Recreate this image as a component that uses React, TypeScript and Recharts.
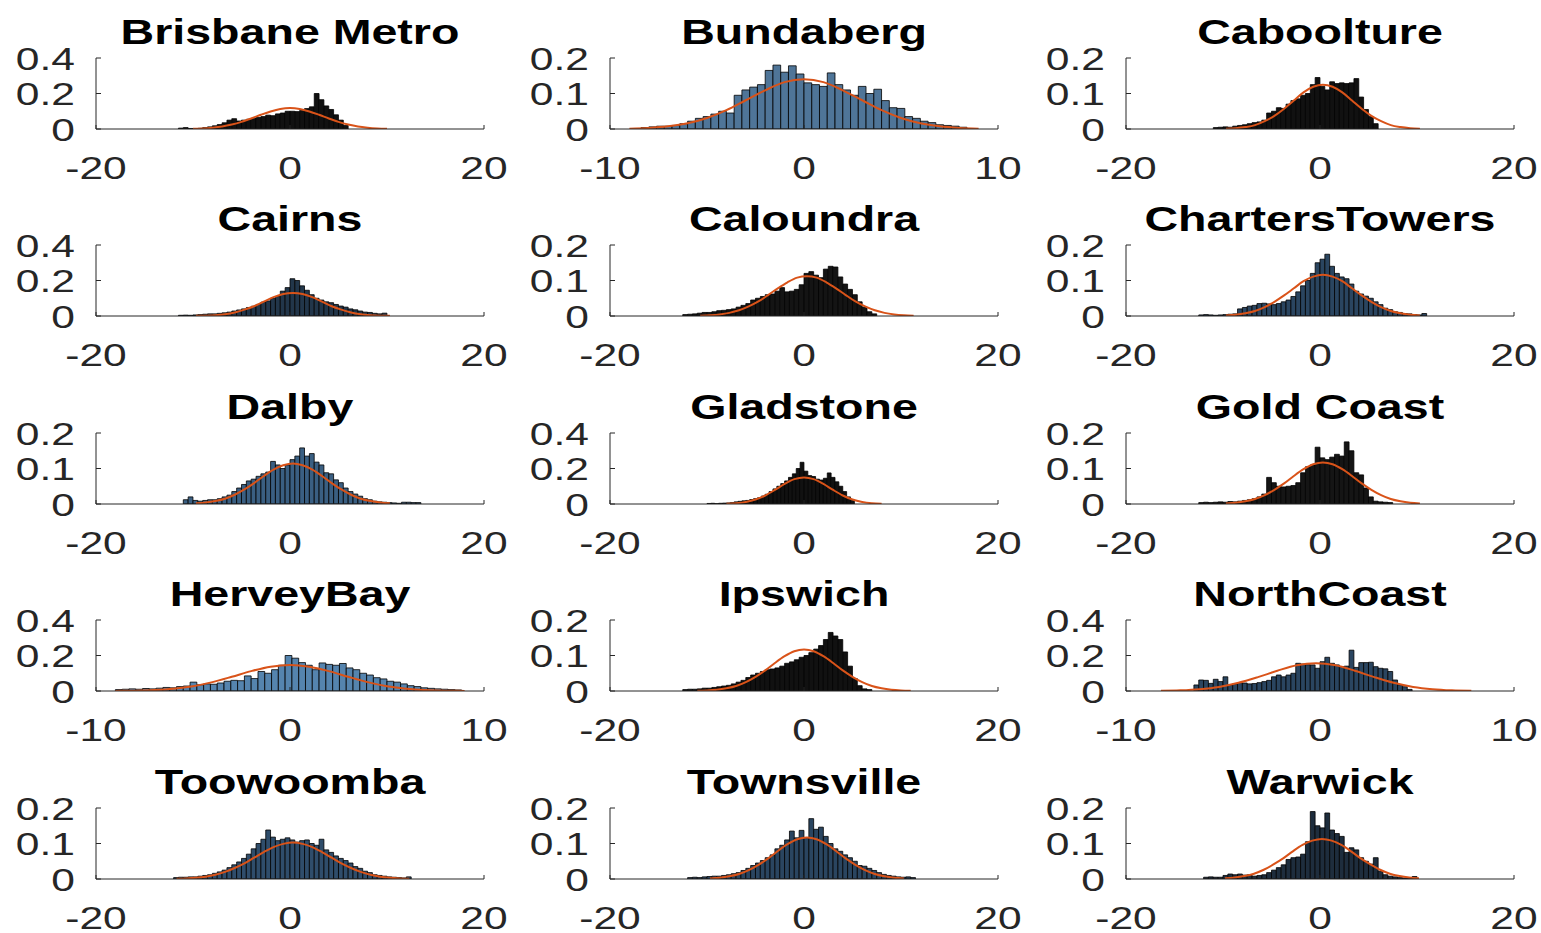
import { Bar, ComposedChart, Line, XAxis, YAxis } from "recharts";

// bin heights (probability density)
const brisbaneHeights = [0.005, 0.008, 0.003, 0, 0.004, 0.008, 0.012, 0.018, 0.025, 0.035, 0.05, 0.058, 0.045, 0.05, 0.055, 0.06, 0.065, 0.07, 0.078, 0.075, 0.085, 0.09, 0.1, 0.1, 0.098, 0.105, 0.115, 0.125, 0.2, 0.165, 0.13, 0.11, 0.08, 0.05, 0.02];
const bundabergHeights = [0.004, 0.006, 0.008, 0.008, 0.01, 0.015, 0.022, 0.03, 0.035, 0.042, 0.05, 0.045, 0.095, 0.11, 0.118, 0.125, 0.165, 0.18, 0.16, 0.178, 0.155, 0.13, 0.125, 0.12, 0.158, 0.125, 0.11, 0.095, 0.12, 0.1, 0.112, 0.08, 0.06, 0.058, 0.035, 0.03, 0.022, 0.018, 0.012, 0.01, 0.008, 0.005];
const cabooltureHeights = [0.004, 0.005, 0.006, 0.005, 0.008, 0.01, 0.012, 0.015, 0.018, 0.02, 0.025, 0.045, 0.05, 0.06, 0.058, 0.07, 0.08, 0.085, 0.095, 0.1, 0.125, 0.145, 0.12, 0.11, 0.133, 0.128, 0.13, 0.128, 0.13, 0.142, 0.09, 0.055, 0.035, 0.015];
const cairnsHeights = [0.004, 0.005, 0.004, 0.006, 0.008, 0.01, 0.012, 0.012, 0.015, 0.018, 0.022, 0.028, 0.034, 0.04, 0.048, 0.055, 0.065, 0.078, 0.085, 0.1, 0.11, 0.14, 0.16, 0.21, 0.2, 0.17, 0.145, 0.12, 0.1, 0.09, 0.08, 0.075, 0.065, 0.056, 0.05, 0.04, 0.035, 0.028, 0.022, 0.02, 0.015, 0.012, 0.016];
const caloundraHeights = [0.004, 0.005, 0.006, 0.008, 0.01, 0.01, 0.012, 0.015, 0.016, 0.018, 0.02, 0.025, 0.03, 0.035, 0.045, 0.05, 0.055, 0.06, 0.062, 0.07, 0.08, 0.068, 0.07, 0.075, 0.088, 0.12, 0.125, 0.115, 0.108, 0.132, 0.14, 0.138, 0.11, 0.09, 0.075, 0.06, 0.04, 0.025, 0.012, 0.006];
const chartersHeights = [0.003, 0.004, 0.003, 0.002, 0.003, 0.004, 0.005, 0.006, 0.02, 0.024, 0.028, 0.03, 0.035, 0.036, 0.034, 0.032, 0.035, 0.04, 0.045, 0.055, 0.068, 0.085, 0.1, 0.12, 0.15, 0.16, 0.174, 0.14, 0.12, 0.11, 0.105, 0.09, 0.07, 0.062, 0.056, 0.05, 0.04, 0.032, 0.022, 0.018, 0.012, 0.01, 0.007, 0.006, 0.004, 0.003, 0.007];
const dalbyHeights = [0.012, 0.02, 0.01, 0.008, 0.01, 0.012, 0.012, 0.015, 0.02, 0.025, 0.035, 0.045, 0.055, 0.065, 0.07, 0.078, 0.085, 0.09, 0.12, 0.11, 0.1, 0.11, 0.125, 0.135, 0.158, 0.135, 0.142, 0.118, 0.11, 0.088, 0.085, 0.068, 0.06, 0.045, 0.035, 0.028, 0.022, 0.015, 0.012, 0.008, 0.006, 0.005, 0.004, 0.003, 0.002, 0.005, 0.005, 0.004, 0.004];
const gladstoneHeights = [0.003, 0.004, 0.002, 0.004, 0.005, 0.006, 0.008, 0.012, 0.015, 0.018, 0.02, 0.025, 0.03, 0.035, 0.045, 0.055, 0.07, 0.085, 0.1, 0.115, 0.13, 0.15, 0.17, 0.2, 0.235, 0.185, 0.16, 0.155, 0.14, 0.135, 0.145, 0.175, 0.15, 0.125, 0.1, 0.07, 0.04, 0.02];
const goldCoastHeights = [0.004, 0.005, 0.004, 0.005, 0.006, 0.005, 0.007, 0.006, 0.008, 0.01, 0.012, 0.015, 0.02, 0.028, 0.075, 0.06, 0.05, 0.048, 0.05, 0.052, 0.06, 0.088, 0.105, 0.11, 0.16, 0.13, 0.125, 0.132, 0.14, 0.135, 0.175, 0.15, 0.088, 0.082, 0.045, 0.02, 0.008, 0.006, 0.005, 0.004];
const herveyBayHeights = [0.008, 0.01, 0.012, 0.01, 0.014, 0.012, 0.016, 0.02, 0.018, 0.025, 0.028, 0.05, 0.035, 0.04, 0.038, 0.045, 0.055, 0.06, 0.058, 0.085, 0.07, 0.11, 0.1, 0.12, 0.145, 0.2, 0.185, 0.16, 0.145, 0.12, 0.158, 0.15, 0.145, 0.155, 0.13, 0.12, 0.1, 0.09, 0.075, 0.068, 0.055, 0.05, 0.04, 0.03, 0.025, 0.018, 0.015, 0.012, 0.01, 0.008, 0.006];
const ipswichHeights = [0.004, 0.005, 0.005, 0.006, 0.008, 0.008, 0.01, 0.012, 0.014, 0.016, 0.02, 0.025, 0.03, 0.038, 0.045, 0.05, 0.055, 0.06, 0.062, 0.065, 0.07, 0.078, 0.082, 0.088, 0.095, 0.1, 0.108, 0.118, 0.128, 0.145, 0.165, 0.155, 0.145, 0.11, 0.07, 0.035, 0.015, 0.006, 0.004];
const northCoastHeights = [0.034, 0.062, 0.06, 0.043, 0.066, 0.053, 0.08, 0.034, 0.04, 0.047, 0.045, 0.04, 0.042, 0.047, 0.053, 0.06, 0.08, 0.09, 0.08, 0.09, 0.1, 0.156, 0.152, 0.148, 0.147, 0.128, 0.165, 0.19, 0.156, 0.147, 0.137, 0.14, 0.23, 0.133, 0.16, 0.16, 0.162, 0.137, 0.128, 0.125, 0.11, 0.062, 0.035, 0.024, 0.009];
const toowoombaHeights = [0.004, 0.005, 0.005, 0.006, 0.006, 0.008, 0.01, 0.012, 0.016, 0.02, 0.025, 0.032, 0.04, 0.048, 0.058, 0.07, 0.085, 0.1, 0.112, 0.138, 0.118, 0.108, 0.112, 0.116, 0.11, 0.104, 0.108, 0.11, 0.1, 0.095, 0.112, 0.082, 0.075, 0.065, 0.058, 0.052, 0.045, 0.035, 0.03, 0.022, 0.018, 0.012, 0.01, 0.008, 0.006, 0.005, 0.004, 0.003, 0.006];
const townsvilleHeights = [0.004, 0.005, 0.004, 0.006, 0.007, 0.008, 0.008, 0.01, 0.012, 0.015, 0.018, 0.024, 0.03, 0.038, 0.045, 0.052, 0.06, 0.068, 0.085, 0.095, 0.11, 0.135, 0.116, 0.137, 0.116, 0.17, 0.14, 0.146, 0.12, 0.1, 0.085, 0.078, 0.068, 0.06, 0.05, 0.038, 0.036, 0.03, 0.024, 0.018, 0.013, 0.01, 0.008, 0.006, 0.005, 0.006, 0.004];
const warwickHeights = [0.005, 0.006, 0.005, 0.005, 0.01, 0.014, 0.012, 0.014, 0.011, 0.012, 0.008, 0.01, 0.012, 0.018, 0.025, 0.032, 0.04, 0.055, 0.06, 0.062, 0.07, 0.105, 0.19, 0.15, 0.144, 0.186, 0.138, 0.128, 0.12, 0.075, 0.088, 0.082, 0.06, 0.05, 0.042, 0.06, 0.022, 0.012, 0.008, 0.006, 0.004, 0.003, 0.003, 0.007];

const brisbaneCurve = [0.0015, 0.0035, 0.0075, 0.014, 0.025, 0.04, 0.059, 0.08, 0.099, 0.113, 0.118, 0.113, 0.099, 0.08, 0.059, 0.04, 0.025, 0.014, 0.0075, 0.0035, 0.0015];
const bundabergCurve = [0.001, 0.003, 0.0075, 0.016, 0.031, 0.053, 0.081, 0.109, 0.132, 0.14, 0.132, 0.109, 0.081, 0.053, 0.031, 0.016, 0.0075, 0.003, 0.001];
const cabooltureCurve = [0.0009, 0.0023, 0.0055, 0.011, 0.022, 0.037, 0.057, 0.08, 0.103, 0.119, 0.125, 0.119, 0.103, 0.08, 0.057, 0.037, 0.022, 0.011, 0.0055, 0.0023, 0.0009];
const cairnsCurve = [0.0008, 0.002, 0.0047, 0.01, 0.02, 0.036, 0.055, 0.081, 0.106, 0.124, 0.13, 0.124, 0.106, 0.081, 0.055, 0.036, 0.02, 0.01, 0.0047, 0.002, 0.0008];
const caloundraCurve = [0.0009, 0.0021, 0.0045, 0.0088, 0.016, 0.027, 0.041, 0.059, 0.078, 0.095, 0.108, 0.112, 0.108, 0.095, 0.078, 0.059, 0.041, 0.027, 0.016, 0.0088, 0.0045, 0.0021, 0.0009];
const chartersCurve = [0.0015, 0.0035, 0.0075, 0.014, 0.025, 0.04, 0.058, 0.078, 0.098, 0.111, 0.116, 0.111, 0.098, 0.078, 0.058, 0.04, 0.025, 0.014, 0.0075, 0.0035, 0.0015];
const dalbyCurve = [0.002, 0.0042, 0.0084, 0.015, 0.026, 0.041, 0.059, 0.079, 0.097, 0.109, 0.114, 0.109, 0.097, 0.079, 0.059, 0.041, 0.026, 0.015, 0.0084, 0.0042, 0.002];
const gladstoneCurve = [0.0016, 0.0046, 0.0115, 0.025, 0.048, 0.079, 0.113, 0.14, 0.15, 0.14, 0.113, 0.079, 0.048, 0.025, 0.0115, 0.0046, 0.0016];
const goldCoastCurve = [0.0015, 0.0035, 0.0075, 0.014, 0.025, 0.04, 0.058, 0.079, 0.098, 0.112, 0.117, 0.112, 0.098, 0.079, 0.058, 0.04, 0.025, 0.014, 0.0075, 0.0035, 0.0015];
const herveyBayCurve = [0.0006, 0.0019, 0.0052, 0.0127, 0.027, 0.05, 0.08, 0.112, 0.137, 0.147, 0.137, 0.112, 0.08, 0.05, 0.027, 0.0127, 0.0052, 0.0019, 0.0006];
const ipswichCurve = [0.0006, 0.0015, 0.0035, 0.0075, 0.014, 0.025, 0.04, 0.058, 0.079, 0.098, 0.112, 0.117, 0.112, 0.098, 0.079, 0.058, 0.04, 0.025, 0.014, 0.0075, 0.0035, 0.0015, 0.0006];
const northCoastCurve = [0.0011, 0.0036, 0.01, 0.023, 0.046, 0.078, 0.114, 0.145, 0.156, 0.145, 0.114, 0.078, 0.046, 0.023, 0.01, 0.0036, 0.0011];
const toowoombaCurve = [0.0008, 0.0017, 0.0035, 0.0066, 0.012, 0.02, 0.031, 0.044, 0.06, 0.076, 0.09, 0.099, 0.103, 0.099, 0.09, 0.076, 0.06, 0.044, 0.031, 0.02, 0.012, 0.0066, 0.0035, 0.0017, 0.0008];
const townsvilleCurve = [0.0015, 0.0035, 0.0075, 0.014, 0.025, 0.04, 0.058, 0.079, 0.098, 0.112, 0.117, 0.112, 0.098, 0.079, 0.058, 0.04, 0.025, 0.014, 0.0075, 0.0035, 0.0015];
const warwickCurve = [0.002, 0.0042, 0.0083, 0.015, 0.026, 0.041, 0.058, 0.078, 0.096, 0.108, 0.113, 0.108, 0.096, 0.078, 0.058, 0.041, 0.026, 0.015, 0.0083, 0.0042, 0.002];

const wideTicks = [-20, 0, 20];
const narrowTicks = [-10, 0, 10];
const lowTicks = [0, 0.1, 0.2];
const highTicks = [0, 0.2, 0.4];

const AXIS = "#262626";
const FIT = "#D95319";
const FONT = '"Liberation Sans", Arial, Helvetica, sans-serif';
const SX = 1.33; // the source figure is stretched sideways

const COL_LEFT = [96, 610, 1126];
const ROW_TOP = [58, 245, 433, 620, 808];
const PLOT_W = 388;
const PLOT_H = 71;
const Y_W = 100;
const TOP_PAD = 20;
const RIGHT_PAD = 40;
const X_H = 60;

type Panel = {
  title: string;
  heights: number[];
  binStart: number;
  binWidth: number;
  curve: number[];
  curveStart: number;
  curveStep: number;
  xTicks: number[];
  yTicks: number[];
  fill: string;
};

const panels: Panel[] = [
  { title: "Brisbane Metro", heights: brisbaneHeights, binStart: -11.5, binWidth: 0.5, curve: brisbaneCurve, curveStart: -10, curveStep: 1, xTicks: wideTicks, yTicks: highTicks, fill: "#111" },
  { title: "Bundaberg", heights: bundabergHeights, binStart: -8.4, binWidth: 0.4, curve: bundabergCurve, curveStart: -9, curveStep: 1, xTicks: narrowTicks, yTicks: lowTicks, fill: "#4f7598" },
  { title: "Caboolture", heights: cabooltureHeights, binStart: -11, binWidth: 0.5, curve: cabooltureCurve, curveStart: -9.7, curveStep: 1, xTicks: wideTicks, yTicks: lowTicks, fill: "#111" },
  { title: "Cairns", heights: cairnsHeights, binStart: -11.5, binWidth: 0.5, curve: cairnsCurve, curveStart: -9.7, curveStep: 1, xTicks: wideTicks, yTicks: highTicks, fill: "#22364a" },
  { title: "Caloundra", heights: caloundraHeights, binStart: -12.5, binWidth: 0.5, curve: caloundraCurve, curveStart: -10.7, curveStep: 1, xTicks: wideTicks, yTicks: lowTicks, fill: "#141414" },
  { title: "ChartersTowers", heights: chartersHeights, binStart: -12.5, binWidth: 0.5, curve: chartersCurve, curveStart: -9.7, curveStep: 1, xTicks: wideTicks, yTicks: lowTicks, fill: "#2a4560" },
  { title: "Dalby", heights: dalbyHeights, binStart: -11, binWidth: 0.5, curve: dalbyCurve, curveStart: -9.7, curveStep: 1, xTicks: wideTicks, yTicks: lowTicks, fill: "#3a5f82" },
  { title: "Gladstone", heights: gladstoneHeights, binStart: -10, binWidth: 0.4, curve: gladstoneCurve, curveStart: -8, curveStep: 1, xTicks: wideTicks, yTicks: highTicks, fill: "#111" },
  { title: "Gold Coast", heights: goldCoastHeights, binStart: -12.5, binWidth: 0.5, curve: goldCoastCurve, curveStart: -9.7, curveStep: 1, xTicks: wideTicks, yTicks: lowTicks, fill: "#151515" },
  { title: "HerveyBay", heights: herveyBayHeights, binStart: -9, binWidth: 0.35, curve: herveyBayCurve, curveStart: -9, curveStep: 1, xTicks: narrowTicks, yTicks: highTicks, fill: "#5584ae" },
  { title: "Ipswich", heights: ipswichHeights, binStart: -12.5, binWidth: 0.5, curve: ipswichCurve, curveStart: -11, curveStep: 1, xTicks: wideTicks, yTicks: lowTicks, fill: "#111" },
  { title: "NorthCoast", heights: northCoastHeights, binStart: -6.5, binWidth: 0.25, curve: northCoastCurve, curveStart: -8.2, curveStep: 1, xTicks: narrowTicks, yTicks: highTicks, fill: "#2a4560" },
  { title: "Toowoomba", heights: toowoombaHeights, binStart: -12, binWidth: 0.5, curve: toowoombaCurve, curveStart: -11.7, curveStep: 1, xTicks: wideTicks, yTicks: lowTicks, fill: "#2f4d6b" },
  { title: "Townsville", heights: townsvilleHeights, binStart: -12, binWidth: 0.5, curve: townsvilleCurve, curveStart: -9.7, curveStep: 1, xTicks: wideTicks, yTicks: lowTicks, fill: "#2a4560" },
  { title: "Warwick", heights: warwickHeights, binStart: -12, binWidth: 0.5, curve: warwickCurve, curveStart: -9.8, curveStep: 1, xTicks: wideTicks, yTicks: lowTicks, fill: "#1e2d3d" },
];

function XTick(props: any) {
  const { x, y, payload } = props;
  return (
    <g>
      <line x1={x} x2={x} y1={y} y2={y - 4} stroke={AXIS} strokeWidth={1} />
      <text
        transform={`translate(${x},${y + 38}) scale(${SX},1)`}
        textAnchor="middle"
        dy="0.36em"
        fontSize={32}
        fontFamily={FONT}
        fill={AXIS}
      >
        {String(payload.value)}
      </text>
    </g>
  );
}

function YTick(props: any) {
  const { x, y, payload } = props;
  return (
    <g>
      <line x1={x} x2={x + 5} y1={y} y2={y} stroke={AXIS} strokeWidth={1} />
      <text
        transform={`translate(${x - 21},${y}) scale(${SX},1)`}
        textAnchor="end"
        dy="0.36em"
        fontSize={32}
        fontFamily={FONT}
        fill={AXIS}
      >
        {String(payload.value)}
      </text>
    </g>
  );
}

function HistPanel({ panel, left, top }: { panel: Panel; left: number; top: number }) {
  const bins = panel.heights.map((h, i) => ({ x: +(panel.binStart + (i + 0.5) * panel.binWidth).toFixed(4), h }));
  const fit = panel.curve.map((y, i) => ({ x: +(panel.curveStart + i * panel.curveStep).toFixed(4), y }));
  const xMin = panel.xTicks[0];
  const xMax = panel.xTicks[panel.xTicks.length - 1];
  const yMax = panel.yTicks[panel.yTicks.length - 1];
  // one bin in pixels, a hair under so Recharts does not shrink the bars
  const barPx = (panel.binWidth / (xMax - xMin)) * PLOT_W - 0.05;

  return (
    <div style={{ position: "absolute", left: left - Y_W, top: top - TOP_PAD }}>
      <ComposedChart
        width={Y_W + PLOT_W + RIGHT_PAD}
        height={TOP_PAD + PLOT_H + X_H}
        data={bins}
        margin={{ top: TOP_PAD, right: RIGHT_PAD, bottom: 0, left: 0 }}
        barCategoryGap={0}
        barGap={0}
      >
        <XAxis
          dataKey="x"
          type="number"
          domain={[xMin, xMax]}
          ticks={panel.xTicks}
          interval={0}
          allowDataOverflow
          tickSize={0}
          tickMargin={0}
          height={X_H}
          stroke={AXIS}
          tick={(p: any) => <XTick {...p} />}
        />
        <XAxis xAxisId="fit" dataKey="x" type="number" domain={[xMin, xMax]} allowDataOverflow hide />
        <YAxis
          type="number"
          domain={[0, yMax]}
          ticks={panel.yTicks}
          interval={0}
          allowDataOverflow
          tickSize={0}
          tickMargin={0}
          width={Y_W}
          stroke={AXIS}
          tick={(p: any) => <YTick {...p} />}
        />
        <Bar dataKey="h" fill={panel.fill} stroke="#000" strokeWidth={0.8} barSize={barPx} isAnimationActive={false} />
        <Line
          xAxisId="fit"
          data={fit}
          dataKey="y"
          type="monotone"
          stroke={FIT}
          strokeWidth={2}
          dot={false}
          isAnimationActive={false}
        />
      </ComposedChart>
      <div
        style={{
          position: "absolute",
          left: Y_W,
          width: PLOT_W,
          top: TOP_PAD - 43.6,
          textAlign: "center",
          fontFamily: FONT,
          fontWeight: "bold",
          fontSize: 35,
          lineHeight: 1,
          color: "#000",
          whiteSpace: "nowrap",
          transform: `scaleX(${SX})`,
        }}
      >
        {panel.title}
      </div>
    </div>
  );
}

export default function App() {
  return (
    <div
      style={{
        position: "absolute",
        left: 0,
        top: 0,
        width: 1541,
        height: 933,
        overflow: "hidden",
        background: "#fff",
      }}
    >
      {panels.map((p, i) => (
        <HistPanel key={p.title} panel={p} left={COL_LEFT[i % 3]} top={ROW_TOP[Math.floor(i / 3)]} />
      ))}
    </div>
  );
}
